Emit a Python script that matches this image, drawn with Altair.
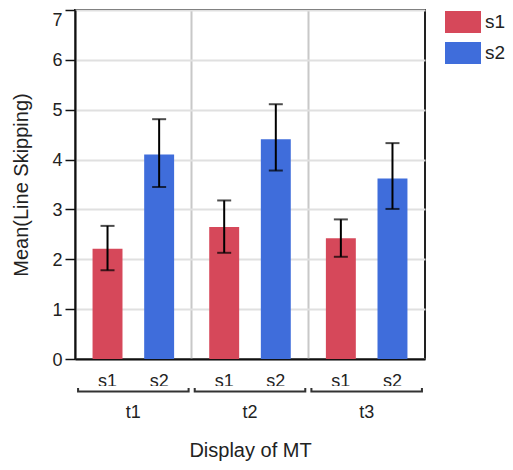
import altair as alt
import pandas as pd

groups = ["t1", "t2", "t3"]
series = ["s1", "s2"]
mean_s1 = [2.21, 2.65, 2.42]
mean_s2 = [4.10, 4.41, 3.62]
low_s1 = [1.78, 2.13, 2.05]
high_s1 = [2.67, 3.18, 2.80]
low_s2 = [3.45, 3.78, 3.01]
high_s2 = [4.81, 5.11, 4.33]
colors = ["#d6485a", "#3f6ddb"]

rows = []
for i, g in enumerate(groups):
    rows.append({"t": g, "s": "s1", "mean": mean_s1[i], "lo": low_s1[i], "hi": high_s1[i]})
    rows.append({"t": g, "s": "s2", "mean": mean_s2[i], "lo": low_s2[i], "hi": high_s2[i]})
df = pd.DataFrame(rows)
gdf = pd.DataFrame({"t": groups})

FONT = "Liberation Sans"
W, H = 350, 349

xaxis = alt.Axis(
    bandPosition=0, grid=True, gridColor="#c8c8c8", gridWidth=2,
    ticks=False, tickSize=0, labelPadding=58,
    labelBaseline="alphabetic", labelAngle=0, labelFontSize=18, labelColor="#222",
    labelFont=FONT, domainColor="#111", domainWidth=2,
    title="Display of MT", titleX=W / 2, titleY=97, titleFontSize=20,
    titleFontWeight="normal", titleBaseline="alphabetic", titleFont=FONT,
    titleColor="#222",
)
xenc = alt.X("t:N", scale=alt.Scale(domain=groups, paddingInner=0, paddingOuter=0), axis=xaxis)
xoff = alt.XOffset("s:N", scale=alt.Scale(domain=series, paddingInner=0.42, paddingOuter=0.34))

yaxis = alt.Axis(
    values=list(range(8)), grid=True, gridColor="#e0e0e0", gridWidth=2,
    tickSize=10, tickColor="#111", tickWidth=1.5, labelFontSize=18, labelPadding=3,
    labelBaseline={"condition": {"test": "datum.value >= 7", "value": "top"}, "value": "middle"},
    labelOffset=1,
    labelColor="#222", labelFont=FONT, domainColor="#111", domainWidth=2,
    title="Mean(Line Skipping)", titleFontSize=20, titleFontWeight="normal",
    titleFont=FONT, titleColor="#222", titleX=-47.5, titleY=H / 2, titleAngle=-90,
    titleBaseline="alphabetic", titleAlign="center",
)
yscale = alt.Scale(domain=[0, 7], nice=False)

base = alt.Chart(df)

bars = base.mark_bar().encode(
    x=xenc, xOffset=xoff,
    y=alt.Y("mean:Q", scale=yscale, axis=yaxis),
    color=alt.Color("s:N", scale=alt.Scale(domain=series, range=colors),
                    legend=alt.Legend(
                        title=None, orient="none", legendX=370, legendY=-6,
                        symbolType="M-1,-0.611L1,-0.611L1,0.611L-1,0.611Z",
                        symbolSize=1296, symbolStrokeWidth=0, rowPadding=2,
                        labelFontSize=19, labelFont=FONT, labelColor="#222",
                        labelOffset=4, padding=0)),
)

err = base.mark_rule(color="black", strokeWidth=2).encode(
    x=xenc, xOffset=xoff,
    y=alt.Y("lo:Q", scale=yscale, axis=yaxis), y2="hi:Q",
)
cap_hi = base.mark_tick(color="black", thickness=2, size=14).encode(
    x=xenc, xOffset=xoff, y=alt.Y("hi:Q", scale=yscale, axis=yaxis),
)
cap_lo = base.mark_tick(color="black", thickness=2, size=14).encode(
    x=xenc, xOffset=xoff, y=alt.Y("lo:Q", scale=yscale, axis=yaxis),
)

slabels = base.mark_text(baseline="alphabetic", fontSize=18, font=FONT, color="#222").encode(
    x=xenc, xOffset=xoff, y=alt.value(377), text="s:N",
)

gbase = alt.Chart(gdf)
bracket_dark = gbase.mark_bar(width=alt.RelativeBandSize(0.965), color="#333").encode(
    x=xenc, y=alt.value(378), y2=alt.value(382.5),
)
bracket_white = gbase.mark_bar(width=alt.RelativeBandSize(0.93), color="white").encode(
    x=xenc, y=alt.value(376), y2=alt.value(380.5),
)

chart = alt.layer(bars, err, cap_hi, cap_lo, slabels, bracket_dark, bracket_white).properties(
    width=W, height=H,
    autosize=alt.AutoSizeParams(type="none"),
    padding={"left": 67, "top": 2, "right": 80, "bottom": 103},
).configure_view(stroke="#222", strokeWidth=2)

chart.save("out.html", embed_options={"renderer": "svg", "actions": False})
